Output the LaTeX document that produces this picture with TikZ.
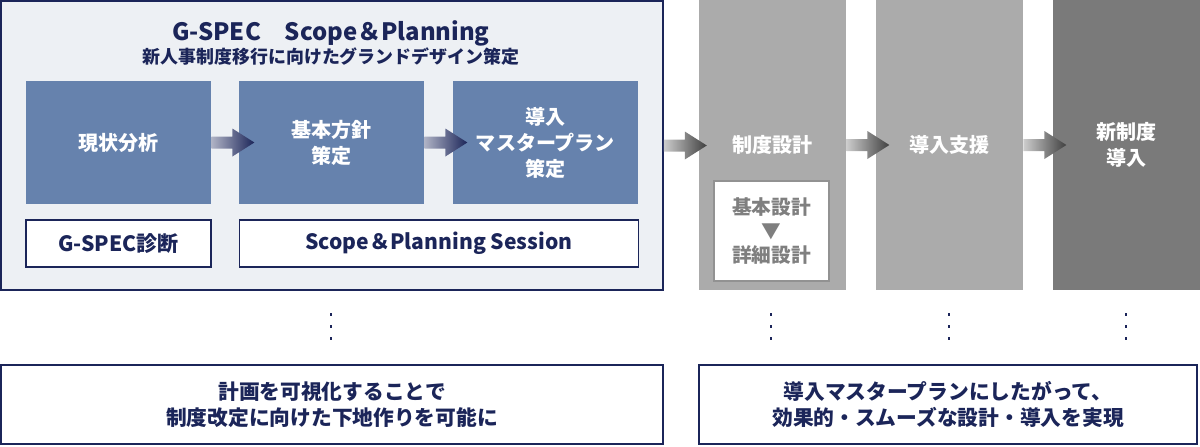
\documentclass[tikz,border=0pt]{standalone}
\usepackage{fontspec}
\setmainfont{Noto Sans CJK JP}
\usetikzlibrary{positioning}
\definecolor{navy}{HTML}{1B2559}
\definecolor{panelbg}{HTML}{EDF0F4}
\definecolor{stepblue}{HTML}{6682AD}
\definecolor{colgray}{HTML}{ABABAB}
\definecolor{coldark}{HTML}{7A7A7A}
\definecolor{subgray}{HTML}{7F7F7F}

% shaded block arrow leaving the east side of a node
\newcommand\flowarrow[3]{%
  \shade[left color=#2, right color=#3] (#1.east) ++(0,0.12) -- ++(0.42,0) -- ++(0,0.16)
    -- ++(0.44,-0.28) -- ++(-0.44,-0.28) -- ++(0,0.16) -- ++(-0.42,0) -- cycle;}

\begin{document}
\begin{tikzpicture}[
  phase/.style={fill=stepblue, text=white, minimum width=3.7cm, minimum height=2.46cm, inner sep=0, align=center, font=\bfseries\fontsize{11.4}{14.8}\selectfont},
  tag/.style={draw=navy, line width=0.85pt, fill=white, text=navy, minimum height=0.94cm, inner sep=0, font=\bfseries\fontsize{12}{14.8}\selectfont},
  column/.style={fill=colgray, text=white, minimum width=2.94cm, minimum height=5.8cm, inner sep=0, align=center, font=\bfseries\fontsize{11.4}{14.8}\selectfont},
  note/.style={draw=navy, line width=0.9pt, fill=white, text=navy, minimum height=1.58cm, inner sep=0, align=center, font=\bfseries\fontsize{11.8}{14.8}\selectfont}
]
\useasboundingbox (0,0) rectangle (24,-8.92);

% Scope & Planning panel
\node[draw=navy, line width=0.9pt, fill=panelbg, minimum width=13.24cm, minimum height=5.78cm, inner sep=0] (sp) at (6.64,-2.91) {};
\node[text=navy, font=\bfseries\fontsize{13.6}{15}\selectfont] (title) at (6.62,-0.66) {G-SPEC　Scope＆Planning};
\node[text=navy, font=\bfseries\fontsize{10.2}{12}\selectfont] (subtitle) at (6.62,-1.13) {新人事制度移行に向けたグランドデザイン策定};

\node[phase] (b1) at (2.37,-2.85) {現状分析};
\node[phase] (b2) at (6.63,-2.85) {基本方針\\策定};
\node[phase] (b3) at (10.91,-2.85) {導入\\マスタープラン\\策定};

\node[tag, minimum width=3.7cm, below=0.3cm of b1] (diag) {G-SPEC診断};
\node[tag, minimum width=7.98cm, below right=0.3cm and 0cm of b2.south west] (session) {Scope＆Planning Session};

% Later phases
\node[column] (c1) at (15.45,-2.9) {制度設計};
\node[column] (c2) at (18.99,-2.9) {導入支援};
\node[column, fill=coldark] (c3) at (22.53,-2.9) {新制度\\導入};
\node[draw=subgray!85, line width=0.7pt, fill=white, text=subgray, minimum width=2.3cm, minimum height=2cm, inner sep=0, align=center, font=\bfseries\fontsize{11.2}{13.7}\selectfont] (sub) at (15.43,-4.62) {基本設計\\▼\\詳細設計};

% Arrows
\flowarrow{b1}{navy!35}{navy}
\flowarrow{b2}{navy!35}{navy}
\flowarrow{sp}{colgray!60}{black!75}
\flowarrow{c1}{colgray!60}{black!75}
\flowarrow{c2}{colgray!60}{black!75}

% Dots
\foreach \x in {6.62,15.42,18.98,22.52} {
  \foreach \y in {-6.26,-6.5,-6.74} {
    \fill[navy] (\x-0.02,\y) rectangle ++(0.04,-0.06);
  }
}

% Outcomes
\node[note, minimum width=13.24cm] (o1) at (6.64,-8.09) {計画を可視化することで\\制度改定に向けた下地作りを可能に};
\node[note, minimum width=9.96cm] (o2) at (18.96,-8.09) {導入マスタープランにしたがって、\\効果的・スムーズな設計・導入を実現};
\end{tikzpicture}
\end{document}
